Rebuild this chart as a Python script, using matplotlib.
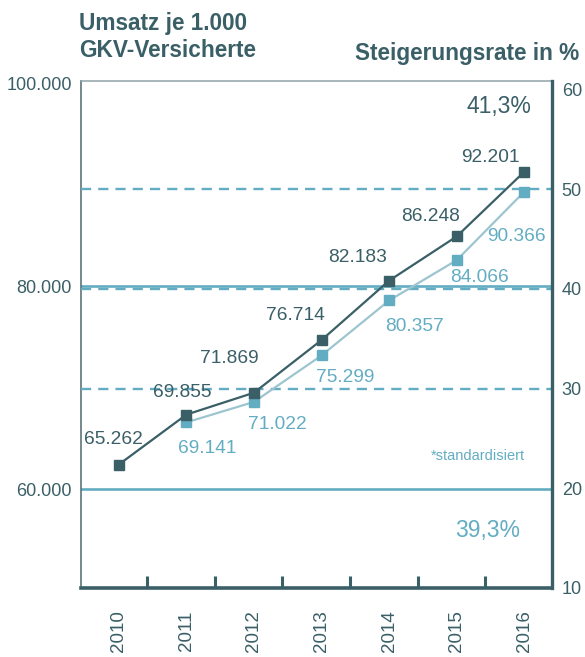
import matplotlib
matplotlib.use("Agg")
import matplotlib.pyplot as plt

plt.rcParams['font.family'] = ['Liberation Sans', 'DejaVu Sans']

# ---- data ----
years = ["2010", "2011", "2012", "2013", "2014", "2015", "2016"]
umsatz = [65262, 69855, 71869, 76714, 82183, 86248, 92201]
umsatz_std_years = ["2011", "2012", "2013", "2014", "2015", "2016"]
umsatz_std = [69141, 71022, 75299, 80357, 84066, 90366]
left_ticks = [60000, 80000, 100000]
left_labels = ["60.000", "80.000", "100.000"]
right_ticks = [10, 20, 30, 40, 50, 60]
rate_total = "41,3%"
rate_std = "39,3%"

# ---- style ----
DARK = "#3a5f67"
LIGHT = "#63adc3"
LIGHT_LINE = "#9cc5cf"

# label offsets in pixels (dx right, dy down) relative to point
dark_off = [(-5, -27), (-4, -24), (-25, -36), (-26, -27), (-32, -25), (-26, -22), (-34, -16)]
light_off = [(21, 24), (23, 21), (24, 20), (25, 24), (23, 15), (-8, 43)]

W, H = 585, 657
fig = plt.figure(figsize=(W / 100, H / 100), dpi=100)
pos = [81 / W, 69 / H, 471 / W, 507 / H]
ax_l = fig.add_axes(pos)
ax_r = ax_l.twinx()
ax_d = ax_l.twinx()

xidx = {y: i for i, y in enumerate(years)}
xd = [xidx[y] for y in years]
xl = [xidx[y] for y in umsatz_std_years]

ax_l.set_xlim(-0.56, 6.41)
ax_l.set_ylim(50250, 100200)
ax_r.set_ylim(10, 60.85)
ax_d.set_ylim(53900, 100550)

# grid lines
for v in [60000, 80000]:
    ax_l.axhline(v, color=LIGHT, lw=1.9, zorder=1)
for v in [30, 40, 50]:
    ax_r.axhline(v, color=LIGHT, lw=1.7, linestyle=(0, (4.3, 3.0)), zorder=1)

# spines
for s in ["top", "bottom", "left", "right"]:
    ax_r.spines[s].set_visible(False)
    ax_d.spines[s].set_visible(False)
ax_l.spines["right"].set_visible(False)
ax_l.spines["left"].set_color("#50686e")
ax_l.spines["left"].set_linewidth(1.1)
ax_l.spines["top"].set_color("#8ea3a8")
ax_l.spines["top"].set_linewidth(1.1)
ax_l.spines["bottom"].set_color(DARK)
ax_l.spines["bottom"].set_linewidth(2.6)
ax_r.spines["right"].set_visible(True)
ax_r.spines["right"].set_color(DARK)
ax_r.spines["right"].set_linewidth(2.4)

# x ticks
ax_l.set_xticks(range(len(years)))
ax_l.set_xticklabels(years, rotation=90, fontsize=13.5, color=DARK)
ax_l.tick_params(axis="x", which="major", length=0, pad=16)
ax_l.set_xticks([i + 0.42 for i in range(len(years) - 1)], minor=True)
ax_l.tick_params(axis="x", which="minor", direction="in", length=8.5, width=2.2, color=DARK)

# y ticks
ax_l.set_yticks(left_ticks)
ax_l.set_yticklabels(left_labels, fontsize=13, color=DARK)
ax_l.tick_params(axis="y", length=0, pad=6.5)
ax_r.set_yticks(right_ticks)
ax_r.set_yticklabels([str(t) for t in right_ticks], fontsize=13, color=DARK)
ax_r.tick_params(axis="y", length=0, pad=7)
ax_d.set_yticks([])

# data
ax_d.plot(xl, umsatz_std, color=LIGHT_LINE, lw=1.6, marker="s", ms=6.5,
          mfc=LIGHT, mec=LIGHT, zorder=3)
ax_d.plot(xd, umsatz, color=DARK, lw=1.6, marker="s", ms=6.5,
          mfc=DARK, mec=DARK, zorder=4)

for x, v, (dx, dy) in zip(xd, umsatz, dark_off):
    lab = f"{v:,}".replace(",", ".")
    ax_d.annotate(lab, (x, v), xytext=(dx, -(dy + 6.5)), textcoords="offset pixels",
                  ha="center", va="baseline", fontsize=13.8, color=DARK, zorder=5)
for x, v, (dx, dy) in zip(xl, umsatz_std, light_off):
    lab = f"{v:,}".replace(",", ".")
    ax_d.annotate(lab, (x, v), xytext=(dx, -(dy + 6.5)), textcoords="offset pixels",
                  ha="center", va="baseline", fontsize=13.8, color=LIGHT, zorder=5)

# texts
fig.text(79 / W, 1 - 30 / H, "Umsatz je 1.000", fontsize=16.3, fontweight="bold",
         color=DARK, ha="left", va="baseline")
fig.text(79 / W, 1 - 57 / H, "GKV-Versicherte", fontsize=16.3, fontweight="bold",
         color=DARK, ha="left", va="baseline")
fig.text(579 / W, 1 - 60 / H, "Steigerungsrate in %", fontsize=16.3, fontweight="bold",
         color=DARK, ha="right", va="baseline")
fig.text(499 / W, 1 - 113 / H, rate_total, fontsize=16.5, color=DARK, ha="center", va="baseline")
fig.text(488 / W, 1 - 537 / H, rate_std, fontsize=16.5, color=LIGHT, ha="center", va="baseline")
fig.text(478 / W, 1 - 460 / H, "*standardisiert", fontsize=10.5, color=LIGHT,
         ha="center", va="baseline")

fig.savefig("out.png", dpi=100)
